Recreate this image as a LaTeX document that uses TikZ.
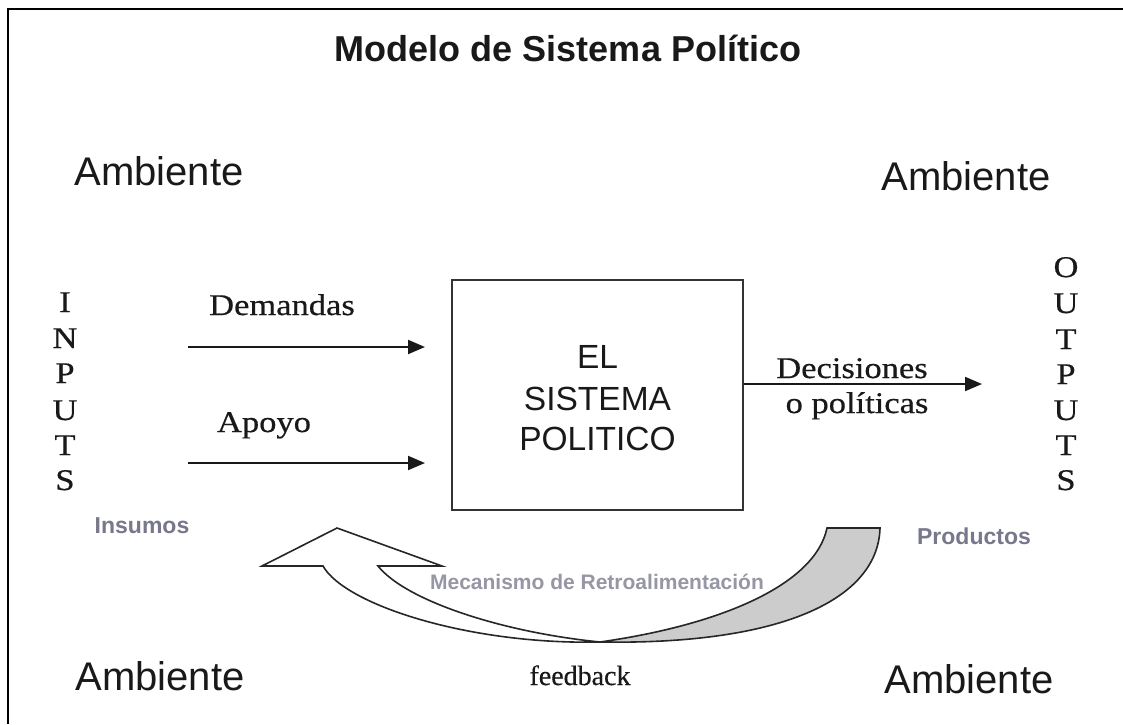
\documentclass[tikz,border=0pt]{standalone}
\usepackage{fontspec}
\setmainfont{Liberation Serif}[FakeBold=0.4]
\newfontfamily\arialf{Liberation Sans}
\newfontfamily\timesw{Liberation Serif}[FakeStretch=1.15,FakeBold=0.5]
\usetikzlibrary{arrows.meta}
\definecolor{insc}{RGB}{120,120,140}
\definecolor{mecc}{RGB}{150,150,165}
\definecolor{fbgray}{RGB}{204,204,204}
\definecolor{ink}{RGB}{25,25,25}
\tikzset{
  amb/.style={font=\arialf\fontsize{40}{48}\selectfont, text=ink, anchor=base, inner sep=0pt},
  ser/.style={font=\timesw\fontsize{30}{36}\selectfont, text=ink, anchor=base, inner sep=0pt},
  boxtxt/.style={font=\arialf\fontsize{33.5}{41}\selectfont, text=ink, anchor=base, inner sep=0pt},
  lab/.style={font=\arialf\bfseries\fontsize{23}{28}\selectfont, text=insc, anchor=base, inner sep=0pt},
  flow/.style={line width=2pt, draw=ink, -{Triangle[length=17pt,width=14pt]}},
  ribbon/.style={draw=black!85, line width=1.6pt, line join=miter},
}
\begin{document}
\begin{tikzpicture}[x=1pt,y=-1pt]
\useasboundingbox (0,0) rectangle (1123,724);
\fill[white] (0,0) rectangle (1123,724);
% outer frame (cut at right and bottom)
\draw[line width=2.5pt, black] (8,724) -- (8,9) -- (1123,9);

% title
\node[font=\arialf\bfseries\fontsize{36}{43}\selectfont, text=ink, anchor=base, inner sep=0pt] (title) at (568,61) {Modelo de Sistema Político};

% Ambiente labels
\node[amb] (amb1) at (159,185) {Ambiente};
\node[amb] (amb2) at (966,190) {Ambiente};
\node[amb] (amb3) at (160,690) {Ambiente};
\node[amb] (amb4) at (969,693) {Ambiente};

% central box
\node[draw=black!80, line width=2pt, minimum width=291pt, minimum height=230pt, inner sep=0pt] (box) at (597.5,395) {};
\node[boxtxt] (el1) at (597.5,368) {EL};
\node[boxtxt] (el2) at (597.5,410) {SISTEMA};
\node[boxtxt] (el3) at (597.5,450) {POLITICO};

% inputs
\foreach \l/\y [count=\i] in {I/312,N/348,P/383,U/420,T/455,S/490}
  \node[ser] (in\i) at (65,\y) {\l};
% outputs
\foreach \l/\y [count=\i] in {O/277,U/313,T/349,P/384,U/420,T/455,S/490}
  \node[ser] (out\i) at (1066,\y) {\l};

% input arrows
\coordinate (d0) at (188,347);
\coordinate (d1) at (425,347);
\coordinate (a0) at (188,463);
\coordinate (a1) at (425,463);
\draw[flow] (d0) -- (d1);
\draw[flow] (a0) -- (a1);
\node[ser] (dem) at (282,315) {Demandas};
\node[ser] (apo) at (264,432) {Apoyo};

% output arrow
\coordinate (o0) at (box.east |- 0,384);
\coordinate (o1) at (982,384);
\draw[flow] (o0) -- (o1);
\node[ser] (dec) at (852,378) {Decisiones};
\node[ser] (pol) at (857,413) {o políticas};

% side labels
\node[lab] (ins) at (142,533) {Insumos};
\node[lab] (prod) at (974,544) {Productos};

% feedback ribbon
\draw[ribbon, fill=white] (337,528) -- (442,566) -- (378,566)
  .. controls (405,600) and (500,632) .. (600,642)
  .. controls (470,645) and (345,605) .. (323,566)
  -- (262,566) -- cycle;
\draw[ribbon, fill=fbgray] (600,642)
  .. controls (780,645) and (878,600) .. (880,528)
  -- (827,528)
  .. controls (815,585) and (720,625) .. (600,642) -- cycle;

\node[font=\arialf\bfseries\fontsize{21}{25}\selectfont, text=mecc, anchor=base, inner sep=0pt] (mec) at (597,589) {Mecanismo de Retroalimentación};
\node[font=\rmfamily\fontsize{28}{34}\selectfont, text=ink, anchor=base, inner sep=0pt] (fb) at (580,685) {feedback};
\end{tikzpicture}
\end{document}
